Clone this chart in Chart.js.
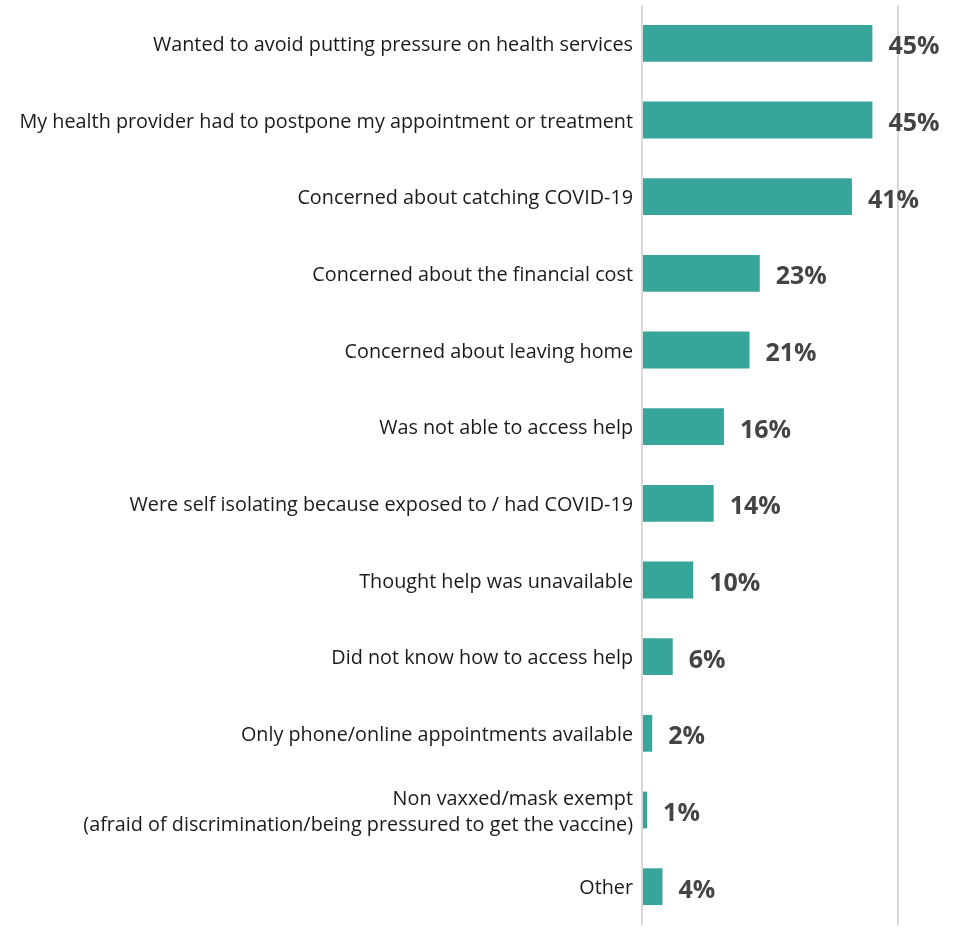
<!DOCTYPE html>
<html>
<head>
<meta charset="utf-8">
<script src="https://cdn.jsdelivr.net/npm/chart.js@4/dist/chart.umd.min.js"></script>
<style>
html,body{margin:0;padding:0;background:#fff;}
#wrap{width:960px;height:930px;position:relative;}
</style>
</head>
<body>
<div id="wrap"><canvas id="c" width="960" height="930"></canvas></div>
<script>
const categories = [
  "Wanted to avoid putting pressure on health services",
  "My health provider had to postpone my appointment or treatment",
  "Concerned about catching COVID-19",
  "Concerned about the financial cost",
  "Concerned about leaving home",
  "Was not able to access help",
  "Were self isolating because exposed to / had COVID-19",
  "Thought help was unavailable",
  "Did not know how to access help",
  "Only phone/online appointments available",
  ["Non vaxxed/mask exempt", "(afraid of discrimination/being pressured to get the vaccine)"],
  "Other"
];
const values = [45, 45, 41, 23, 21, 16, 14, 10, 6, 2, 1, 4];
const valueLabels = ["45%", "45%", "41%", "23%", "21%", "16%", "14%", "10%", "6%", "2%", "1%", "4%"];
const axisMin = 0, axisMax = 50;

const FONT = "'Open Sans', sans-serif";

const valueLabelPlugin = {
  id: 'valueLabels',
  afterDatasetsDraw(chart) {
    const ctx = chart.ctx;
    const meta = chart.getDatasetMeta(0);
    ctx.save();
    ctx.font = "bold 25px " + FONT;
    ctx.fillStyle = "#444444";
    ctx.textAlign = "left";
    ctx.textBaseline = "middle";
    meta.data.forEach((bar, i) => {
      ctx.fillText(valueLabels[i], bar.x + 16, bar.y + 4);
    });
    ctx.restore();
  }
};

new Chart(document.getElementById('c'), {
  type: 'bar',
  data: {
    labels: categories,
    datasets: [{
      data: values,
      backgroundColor: '#37A59A',
      borderWidth: 0,
      barPercentage: 0.96,
      categoryPercentage: 0.5
    }]
  },
  options: {
    indexAxis: 'y',
    responsive: false,
    animation: false,
    layout: { padding: { top: 5, bottom: 5, right: 62, left: 0 } },
    plugins: { legend: { display: false }, tooltip: { enabled: false } },
    scales: {
      x: {
        min: axisMin, max: axisMax,
        ticks: { display: false, stepSize: 50 },
        grid: { color: '#d9d9d9', lineWidth: 2, drawTicks: false },
        border: { display: false }
      },
      y: {
        ticks: { color: '#1a1a1a', font: { family: FONT, size: 19.8, lineHeight: 1.3 }, padding: 9, labelOffset: 2 },
        grid: { display: false, drawTicks: false },
        border: { display: false },
        afterFit(scale) { scale.width = 642; scale.paddingTop = 0; scale.paddingBottom = 0; }
      }
    }
  },
  plugins: [valueLabelPlugin]
});
</script>
</body>
</html>
